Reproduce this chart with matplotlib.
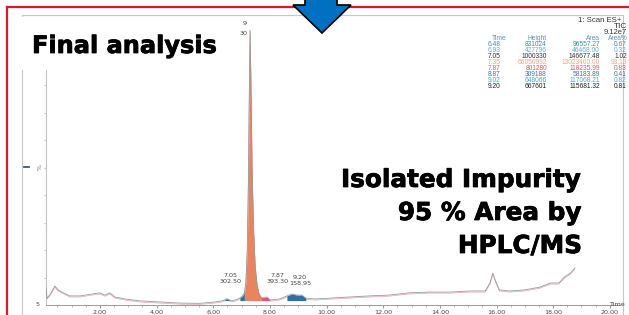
import numpy as np
import matplotlib
matplotlib.use("Agg")
import matplotlib.pyplot as plt
from matplotlib.patches import Rectangle, Polygon
from matplotlib.lines import Line2D
import matplotlib.patheffects as pe

W, H = 629, 315

# ---- data ----
times = [0.10, 0.13, 0.25, 0.41, 0.52, 0.66, 0.94, 1.30, 1.72, 2.00, 2.18, 2.35, 2.53, 2.88,
         3.41, 4.12, 4.82, 5.53, 6.05, 6.31, 6.41, 6.48, 6.56, 6.66, 6.80, 6.94, 7.05, 7.10,
         7.15, 7.20, 7.24, 7.27, 7.30, 7.33, 7.37, 7.42, 7.48, 7.55, 7.62, 7.70, 7.78, 7.85,
         7.92, 8.00, 8.35, 8.60, 8.78, 8.95, 9.13, 9.27, 9.59, 10.8, 11.5, 12.2, 12.9, 13.6,
         14.35, 15.06, 15.6, 15.77, 15.87, 15.97, 16.1, 16.47, 17.0, 17.53, 17.9, 18.2, 18.4,
         18.6, 18.77]
signal = [6.2, 2.5, 4.0, 6.9, 5.5, 4.7, 3.3, 3.3, 4.0, 4.4, 3.6, 4.4, 2.9, 2.2,
          1.5, 1.1, 0.7, 0.6, 1.1, 1.5, 1.9, 2.3, 1.9, 1.5, 1.9, 2.5, 3.5, 4.5,
          8, 20, 45, 75, 100, 80, 50, 28, 14, 7, 4, 2.7, 2.6, 2.9,
          2.8, 1.8, 2.2, 3.3, 4.0, 3.6, 3.6, 2.5, 2.2, 2.9, 3.3, 3.6, 4.4, 4.7,
          4.7, 5.1, 5.1, 8.0, 11.6, 8.7, 5.5, 5.1, 5.5, 6.5, 8.0, 8.0, 10.2,
          11.5, 13.5]

# integrated peak windows (start, end, colour)
peak_starts = [6.41, 6.94, 7.10, 7.70, 8.60]
peak_ends = [6.56, 7.10, 7.70, 8.00, 9.27]
peak_colors = ["#2F6FA6", "#2F6FA6", "#EA8460", "#E0507A", "#2F6FA6"]
peak_base = 1.6

# labelled peaks
label_times = ["7.05", "7.87", "9.20"]
label_values = ["302.50", "393.30", "158.95"]
label_pos_t = [6.60, 8.28, 9.06]
label_pos_v = [7.5, 7.5, 6.8]

# peak report table
tbl_time = ["6.48", "6.93", "7.05", "7.35", "7.87", "8.87", "9.02", "9.20"]
tbl_height = ["831024", "427796", "1000330", "66050992", "801280", "309188", "648066", "667601"]
tbl_area = ["96557.27", "46468.00", "146677.48", "13023400.00", "118235.99", "58183.89",
            "117068.21", "115681.32"]
tbl_pct = ["0.67", "0.32", "1.02", "93.13", "0.83", "0.41", "0.82", "0.81"]
tbl_colors = ["#4A86B8", "#5AB0D8", "#333333", "#F2A584", "#E05A6A", "#3A78A8", "#4AA8D8", "#222222"]

xticks = [2, 4, 6, 8, 10, 12, 14, 16, 18, 20]

# ---- figure ----
fig = plt.figure(figsize=(W / 100, H / 100), dpi=100)
fig.patch.set_facecolor("white")


def fx(px):
    return px / W


def fy(py):
    return 1 - py / H


ax_l, ax_r, ax_t, ax_b = 46, 620, 30, 305
ax = fig.add_axes([fx(ax_l), fy(ax_b), (ax_r - ax_l) / W, (ax_b - ax_t) / H])
ax.set_xlim(0.095, 20.36)
ax.set_ylim(0, 100)
for s in ["top", "right"]:
    ax.spines[s].set_visible(False)
ax.spines["left"].set_color("#c4c4c4")
ax.spines["bottom"].set_color("#9a9a9a")
ax.spines["left"].set_linewidth(0.8)
ax.spines["bottom"].set_linewidth(0.7)

t = np.array(times)
v = np.array(signal)
ax.plot(t, v, color="#9a9a9a", lw=0.6, zorder=3)
ax.plot(t, v - 0.4, color="#E7A3AE", lw=0.5, zorder=2)
for s0, s1, c in zip(peak_starts, peak_ends, peak_colors):
    m = (t >= s0) & (t <= s1)
    ax.fill_between(t[m], peak_base, v[m], color=c, lw=0, zorder=2.5)

for tl, vl, pt, pv in zip(label_times, label_values, label_pos_t, label_pos_v):
    ax.text(pt, pv + 2.2, tl, ha="center", va="bottom", fontsize=4.6, color="#444444")
    ax.text(pt, pv, vl, ha="center", va="bottom", fontsize=4.6, color="#444444")

ax.set_xticks(xticks)
ax.set_xticklabels([f"{x:.2f}" for x in xticks])
ax.set_xticks(np.arange(0.5, 20.3, 0.5), minor=True)
ax.tick_params(axis="x", which="major", labelsize=4.6, labelcolor="#444444", length=2,
               color="#9a9a9a", pad=1.5)
ax.tick_params(axis="x", which="minor", length=1.2, color="#b0b0b0")
ax.set_yticks(np.arange(10, 100, 10))
ax.set_yticklabels([])
ax.tick_params(axis="y", length=1.5, color="#c4c4c4")

# peak apex label
ax.text(7.20, 101.5, "9", ha="right", va="bottom", fontsize=4.6, color="#444444", clip_on=False)
ax.text(7.20, 99.5, "30", ha="right", va="top", fontsize=4.6, color="#444444", clip_on=False)

# ---- outer frame, border, annotations ----
gray = "#c8c8c8"
fig.add_artist(Line2D([fx(22), fx(623)], [fy(15), fy(15)], color=gray, lw=0.8))
fig.add_artist(Line2D([fx(22), fx(22)], [fy(15), fy(H + 2)], color=gray, lw=0.8))
fig.add_artist(Line2D([fx(623), fx(623)], [fy(15), fy(H + 2)], color=gray, lw=0.8))

# red border
fig.add_artist(Line2D([fx(7), fx(W + 2)], [fy(7), fy(7)], color="#E3161D", lw=1.6, zorder=4))
fig.add_artist(Line2D([fx(7), fx(7)], [fy(7), fy(H + 2)], color="#E3161D", lw=1.6, zorder=4))

# white box behind title
fig.add_artist(Rectangle((fx(21), fy(70)), (225 - 21) / W, (70 - 17) / H, facecolor="white",
                         edgecolor="none", zorder=5))
heavy = [pe.withStroke(linewidth=0.55, foreground="black")]
fig.text(fx(32), fy(53), "Final analysis", fontsize=17.3, fontweight="bold", color="black",
         ha="left", va="baseline", zorder=6, path_effects=heavy)

# right annotation
for txt, base in zip(["Isolated Impurity", "95 % Area by", "HPLC/MS"], [187, 220, 253]):
    fig.text(fx(582), fy(base), txt, fontsize=17.8, fontweight="bold", color="black",
             ha="right", va="baseline", zorder=6, path_effects=heavy)

# y label marks
fig.text(fx(40), fy(167), "%", fontsize=4.5, color="#666666", rotation=90, ha="center", va="center")
fig.add_artist(Line2D([fx(24), fx(29)], [fy(167), fy(167)], color="#3b5a7a", lw=1.3))
fig.text(fx(38), fy(305), "5", fontsize=4.6, color="#444444", ha="center", va="center")
fig.text(fx(617), fy(304), "Time", fontsize=4.6, color="#444444", ha="center", va="center")

# table
fs = 4.8
tf = "Liberation Sans"
fig.text(fx(621), fy(20), "1: Scan ES+", fontsize=5.6, family=tf, color="#333333", ha="right", va="center")
fig.text(fx(627), fy(26), "TIC", fontsize=6.0, family=tf, color="#333333", ha="right", va="center")
fig.text(fx(627), fy(32), "9.12e7", fontsize=5.4, family=tf, color="#333333", ha="right", va="center")
hdr_c = "#5A8FC0"
fig.text(fx(506), fy(38.5), "Time", fontsize=fs, family=tf, color=hdr_c, ha="right", va="center")
fig.text(fx(547), fy(38.5), "Height", fontsize=fs, family=tf, color=hdr_c, ha="right", va="center")
fig.text(fx(600), fy(38.5), "Area", fontsize=fs, family=tf, color=hdr_c, ha="right", va="center")
fig.text(fx(628), fy(38.5), "Area%", fontsize=fs, family=tf, color=hdr_c, ha="right", va="center")
for i, (a, b, c, d, col) in enumerate(zip(tbl_time, tbl_height, tbl_area, tbl_pct, tbl_colors)):
    yy = fy(44 + 6.1 * i)
    fig.text(fx(488), yy, a, fontsize=fs, family=tf, color=col, ha="left", va="center")
    fig.text(fx(547), yy, b, fontsize=fs, family=tf, color=col, ha="right", va="center")
    fig.text(fx(600), yy, c, fontsize=fs, family=tf, color=col, ha="right", va="center")
    fig.text(fx(627), yy, d, fontsize=fs, family=tf, color=col, ha="right", va="center")

# blue arrow
arrow_px = [(305, -3), (337, -3), (337, 5), (351, 5), (322, 33), (293, 5), (305, 5)]
fig.add_artist(Polygon([(fx(x), fy(y)) for x, y in arrow_px], closed=True, facecolor="#0070C0",
                       edgecolor="black", lw=1.2, zorder=7))

fig.savefig("out.png", dpi=100, facecolor="white")
